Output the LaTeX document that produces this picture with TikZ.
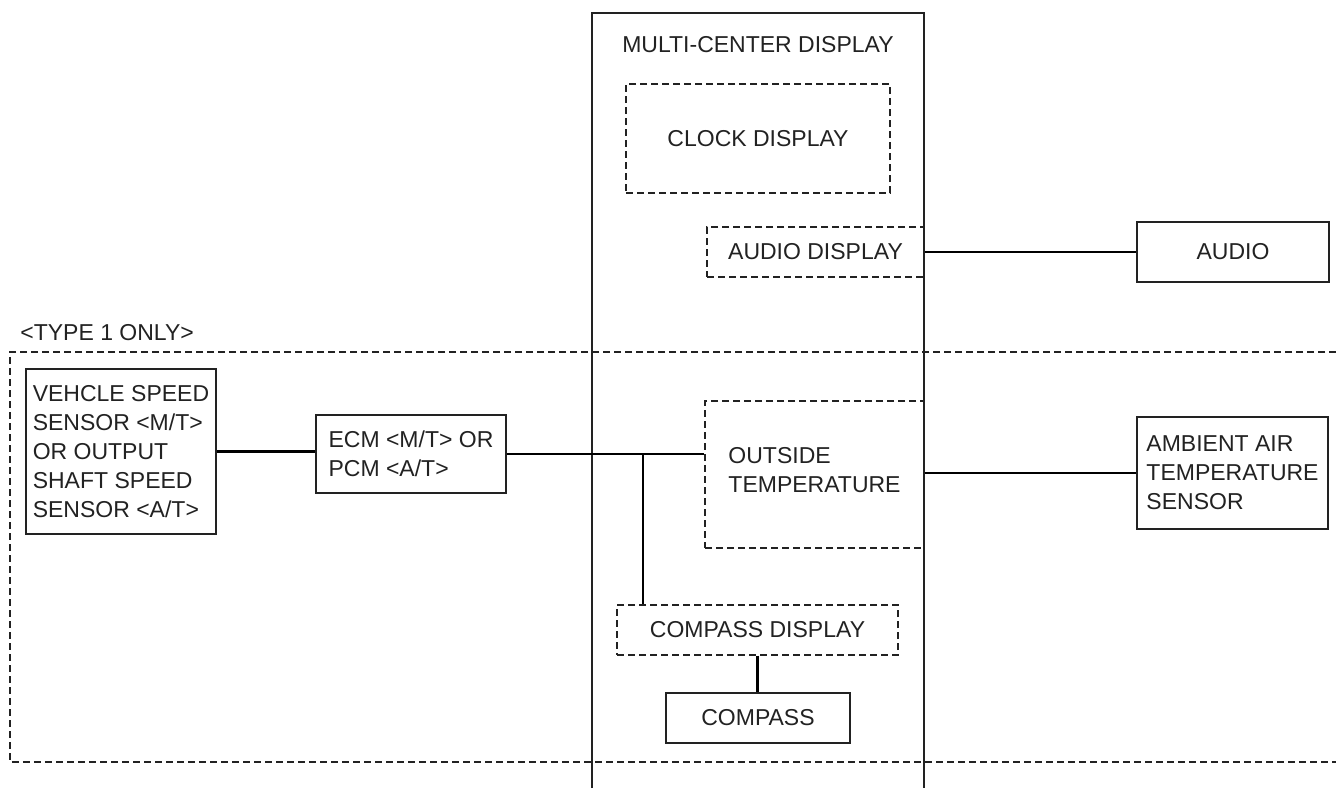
\documentclass[tikz,border=0pt]{standalone}
\usepackage{fontspec}
\setmainfont{Liberation Sans}
\definecolor{ink}{HTML}{222222}
\tikzset{
  base/.style={font=\fontsize{11.5}{14.5}\selectfont, text=ink, inner sep=0pt},
  solidbox/.style={base, draw=ink, line width=0.65pt, rectangle, align=left},
  dashbox/.style={base, draw=ink, line width=0.6pt, dash pattern=on 3.5pt off 2pt, rectangle, align=center},
  wire/.style={draw=black, line width=1.2pt},
  frame/.style={draw=ink, line width=0.6pt},
  groupline/.style={draw=ink, line width=0.6pt, dash pattern=on 3.5pt off 2pt},
}
\begin{document}
\begin{tikzpicture}[x=0.5pt, y=-0.5pt]
\useasboundingbox (0,0) rectangle (1336,788);
\fill[white] (0,0) rectangle (1336,788);

% multi-center display frame (open at the bottom)
\draw[frame] (592,788) -- (592,13) -- (924,13) -- (924,788);
\node[base] (mcd) at (758,45) {MULTI-CENTER DISPLAY};

% type 1 group outline
\draw[groupline] (1336,352) -- (10,352) -- (10,762) -- (1336,762);
\node[base, anchor=west] (type1) at (20,333) {<TYPE 1 ONLY>};

% display sections
\node[dashbox, minimum width=132pt, minimum height=54.5pt] (clock) at (758,138.5) {CLOCK DISPLAY};
\node[dashbox, minimum width=108.5pt, minimum height=25pt] (adisp) at (815.5,252) {AUDIO DISPLAY};
\node[dashbox, minimum width=109.5pt, minimum height=73.5pt, align=left] (otemp) at (814.5,474.5) {OUTSIDE\\TEMPERATURE\\[-9.5pt]};
\node[dashbox, minimum width=140.5pt, minimum height=25pt] (cdisp) at (757.5,630) {COMPASS DISPLAY};

% external units
\node[solidbox, minimum width=96pt, minimum height=30pt, align=center] (audio) at (1233,252) {AUDIO};
\node[solidbox, minimum width=95pt, minimum height=82.5pt] (vss) at (121,451.5) {VEHCLE SPEED\\SENSOR <M/T>\\OR OUTPUT\\SHAFT SPEED\\SENSOR <A/T>};
\node[solidbox, minimum width=95pt, minimum height=39pt] (ecm) at (411,454) {ECM <M/T> OR\\PCM <A/T>};
\node[solidbox, minimum width=95.5pt, minimum height=56pt] (aats) at (1232.5,473) {AMBIENT AIR\\TEMPERATURE\\SENSOR};
\node[solidbox, minimum width=92pt, minimum height=25pt, align=center] (compass) at (758,718) {COMPASS};

% connections
\draw[wire] (vss.east) -- (vss.east -| ecm.west);
\draw[wire] (ecm.east) -- (ecm.east -| otemp.west);
\coordinate (tap) at (643,454);
\draw[wire] (tap) -- (tap |- cdisp.north);
\draw[wire] (adisp.east) -- (adisp.east -| audio.west);
\draw[wire] (aats.west -| otemp.east) -- (aats.west);
\draw[wire] (cdisp.south) -- (cdisp.south |- compass.north);
\end{tikzpicture}
\end{document}
